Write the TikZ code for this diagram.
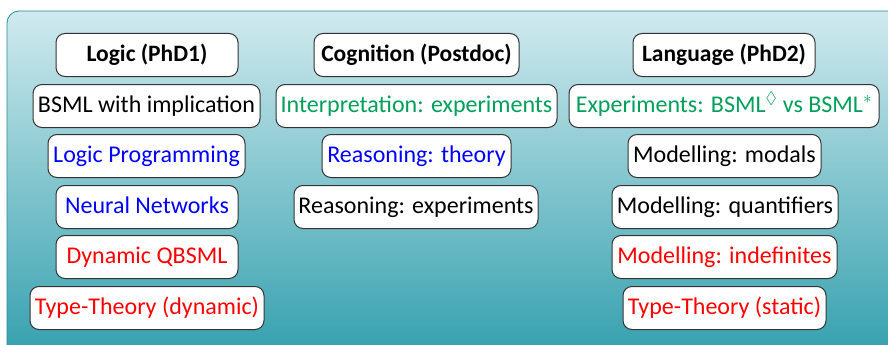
\documentclass[tikz,border=0pt]{standalone}
\usepackage{amssymb}
\usepackage{fontspec}
\setmainfont{Carlito}
\definecolor{bgtop}{RGB}{208,234,238}
\definecolor{bgbot}{RGB}{48,158,172}
\definecolor{bgline}{RGB}{40,140,155}
\definecolor{tgreen}{RGB}{0,160,90}
\definecolor{tblue}{RGB}{0,0,255}
\definecolor{tred}{RGB}{255,0,0}
\tikzset{
  box/.style={draw=black!80, line width=1pt, fill=white, rounded corners=9pt,
    minimum height=43pt, inner sep=0pt, text height=17.5pt, text depth=5pt,
    font=\fontsize{24}{28}\selectfont},
  head/.style={box, font=\fontsize{23.5}{28}\selectfont\bfseries}
}
\begin{document}
\begin{tikzpicture}[x=1pt,y=-1pt]
\useasboundingbox (0,0) rectangle (888,345);
\begin{scope}
\clip (0,0) rectangle (888,345);
\draw[draw=bgline, line width=0.8pt, rounded corners=12pt, top color=bgtop, bottom color=bgbot]
  (7,11) rectangle (905,365);
\end{scope}
% Column 1
\node[head, minimum width=182pt] (l0) at (147,55) {Logic (PhD1)};
\node[box, minimum width=227pt] (l1) at (146.5,106) {BSML with implication};
\node[box, minimum width=197pt, text=tblue] (l2) at (146.5,156) {Logic Programming};
\node[box, minimum width=182pt, text=tblue] (l3) at (147,207) {Neural Networks};
\node[box, minimum width=182pt, text=tred] (l4) at (147,257) {Dynamic QBSML};
\node[box, minimum width=234pt, text=tred] (l5) at (147,308) {Type-Theory (dynamic)};
% Column 2
\node[head, minimum width=205pt] (c0) at (416.5,55) {Cognition (Postdoc)};
\node[box, minimum width=281pt, text=tgreen] (c1) at (416.5,106) {Interpretation: experiments};
\node[box, minimum width=189pt, text=tblue] (c2) at (416.5,156) {Reasoning: theory};
\node[box, minimum width=244pt] (c3) at (416,207) {Reasoning: experiments};
% Column 3
\node[head, minimum width=182pt] (g0) at (724,55) {Language (PhD2)};
\node[box, minimum width=310pt, text=tgreen] (g1) at (724,106) {Experiments: BSML$^{\lozenge}$ vs BSML$^{*}$};
\node[box, minimum width=193pt] (g2) at (724.5,156) {Modelling: modals};
\node[box, minimum width=226pt] (g3) at (725,207) {Modelling: quantifiers};
\node[box, minimum width=225pt, text=tred] (g4) at (724.5,257) {Modelling: indefinites};
\node[box, minimum width=203pt, text=tred] (g5) at (724.5,308) {Type-Theory (static)};
\end{tikzpicture}
\end{document}
